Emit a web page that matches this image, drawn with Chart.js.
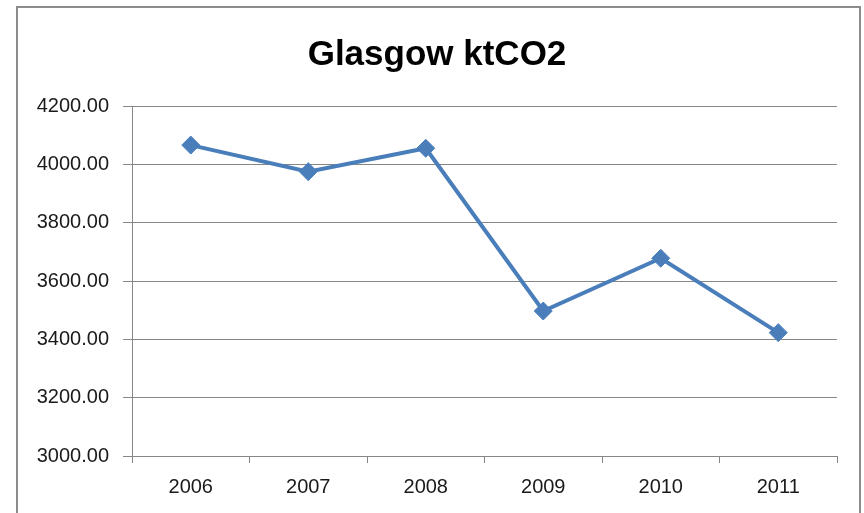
<!doctype html>
<html lang="en">
<head>
    <meta charset="UTF-8">
    <title>Glasgow ktCO2</title>
    <style>
        * {
            margin: 0;
            padding: 0;
            box-sizing: border-box;
        }

        body {
            width: 864px;
            height: 513px;
            background: #fff;
            overflow: hidden;
            position: relative;
        }

        #frame {
            position: absolute;
            left: 16px;
            top: 6px;
            width: 845px;
            height: 530px;
            border: 2px solid #8c8c8c;
        }

        #wrap {
            position: absolute;
            left: 0;
            top: 0;
            width: 864px;
            height: 513px;
        }
    </style>
</head>
<body>

<div id="frame"></div>
<div id="wrap">
    <canvas id="myChart" width="864" height="513"></canvas>
</div>

<script src="https://cdn.jsdelivr.net/npm/chart.js"></script>

<script>
    const years = ['2006', '2007', '2008', '2009', '2010', '2011'];
    const emissions = [4066, 3975, 4055, 3497, 3678, 3423];
    const yMin = 3000;
    const yMax = 4200;
    const yStep = 200;

    const gridColor = '#868686';
    const lineColor = '#4a7ebb';

    const config = {
        type: 'line',
        data: {
            labels: years,
            datasets: [{
                label: 'Glasgow ktCO2',
                data: emissions,
                borderColor: lineColor,
                backgroundColor: lineColor,
                borderWidth: 4,
                tension: 0,
                pointStyle: 'rectRot',
                pointRadius: 9,
                pointBorderWidth: 1,
                pointBorderColor: lineColor
            }]
        },
        options: {
            responsive: false,
            animation: false,
            layout: {
                padding: {left: 37, right: 27, top: 0, bottom: 2}
            },
            plugins: {
                legend: {display: false},
                tooltip: {enabled: false},
                title: {
                    display: true,
                    text: 'Glasgow ktCO2',
                    color: '#000',
                    font: {family: "'Liberation Sans', Arial, sans-serif", size: 35, weight: 'bold'},
                    padding: {top: 34, bottom: 30}
                }
            },
            scales: {
                x: {
                    offset: true,
                    grid: {
                        offset: true,
                        drawOnChartArea: false,
                        drawTicks: true,
                        tickLength: 7,
                        color: gridColor
                    },
                    border: {display: true, color: gridColor},
                    ticks: {
                        color: '#1a1a1a',
                        padding: 12,
                        font: {family: "'Liberation Sans', Arial, sans-serif", size: 20}
                    }
                },
                y: {
                    min: yMin,
                    max: yMax,
                    afterFit: (scale) => { scale.width = 95; },
                    grid: {
                        color: gridColor,
                        tickLength: 9
                    },
                    border: {display: true, color: gridColor},
                    ticks: {
                        stepSize: yStep,
                        color: '#1a1a1a',
                        padding: 14,
                        font: {family: "'Liberation Sans', Arial, sans-serif", size: 20},
                        callback: (v) => Number(v).toFixed(2)
                    }
                }
            }
        }
    };

    const myChart = new Chart(document.getElementById('myChart'), config);
</script>

</body>
</html>
